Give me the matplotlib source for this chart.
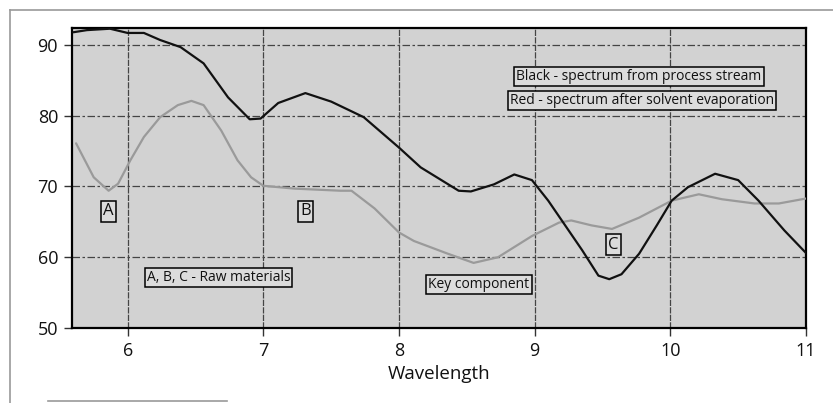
import matplotlib
matplotlib.use("Agg")
import matplotlib.pyplot as plt
from matplotlib.lines import Line2D

plt.rcParams['font.family'] = ['Open Sans', 'DejaVu Sans']

# Black - spectrum from process stream
black_x = [5.6, 5.7, 5.87, 6.0, 6.12, 6.24, 6.39, 6.56, 6.74, 6.9, 6.98, 7.11, 7.31, 7.5,
           7.74, 8.0, 8.16, 8.44, 8.53, 8.7, 8.85, 8.98, 9.1, 9.2, 9.35, 9.47, 9.55, 9.64,
           9.77, 9.9, 10.01, 10.13, 10.33, 10.5, 10.65, 10.84, 11.0]
black_y = [91.8, 92.1, 92.3, 91.7, 91.7, 90.7, 89.7, 87.4, 82.6, 79.5, 79.6, 81.8, 83.2, 82.0,
           79.8, 75.5, 72.7, 69.4, 69.3, 70.3, 71.7, 70.9, 68.0, 65.2, 61.0, 57.4, 56.9, 57.6,
           60.5, 64.5, 68.0, 69.9, 71.8, 70.9, 68.0, 63.8, 60.6]

# Red - spectrum after solvent evaporation
red_x = [5.62, 5.75, 5.86, 5.93, 6.02, 6.12, 6.24, 6.37, 6.47, 6.56, 6.69, 6.81, 6.91, 7.0,
         7.23, 7.57, 7.65, 7.82, 8.0, 8.11, 8.36, 8.55, 8.73, 8.98, 9.18, 9.27, 9.42, 9.57,
         9.77, 10.01, 10.21, 10.38, 10.62, 10.8, 11.0]
red_y = [76.1, 71.3, 69.4, 70.4, 73.7, 77.0, 79.8, 81.5, 82.1, 81.5, 77.9, 73.7, 71.3, 70.1,
         69.7, 69.4, 69.4, 66.9, 63.5, 62.3, 60.5, 59.2, 60.0, 63.0, 64.9, 65.2, 64.5, 64.0,
         65.6, 68.0, 68.9, 68.2, 67.6, 67.6, 68.3]

x_ticks = [6, 7, 8, 9, 10, 11]
y_ticks = [50, 60, 70, 80, 90]

# annotation boxes: (text, x, y)
labels = [
    ("A", 5.86, 66.5),
    ("B", 7.31, 66.5),
    ("C", 9.58, 61.8),
    ("A, B, C - Raw materials", 6.67, 57.1),
    ("Key component", 8.59, 56.2),
    ("Black - spectrum from process stream", 9.77, 85.5),
    ("Red - spectrum after solvent evaporation", 9.79, 82.2),
]

bg = '#d2d2d2'
fig = plt.figure(figsize=(8.33, 4.03), dpi=100)
ax = fig.add_axes([72 / 833, 75 / 403, 734 / 833, 300 / 403])
ax.set_facecolor(bg)

ax.set_xlim(5.59, 11.0)
ax.set_ylim(50, 92.4)
ax.set_xticks(x_ticks)
ax.set_yticks(y_ticks)

# grid
for yv in y_ticks[1:]:
    ax.axhline(yv, color='#444444', lw=0.9, ls=(0, (6, 2, 2, 2)), zorder=1)
for xv in x_ticks[:-1]:
    ax.axvline(xv, color='#444444', lw=0.9, ls=(0, (5, 1)), zorder=1)

ax.plot(red_x, red_y, color='#9a9a9a', lw=1.6, zorder=3, solid_capstyle='round')
ax.plot(black_x, black_y, color='#111111', lw=1.6, zorder=4, solid_capstyle='round')

for txt, tx, ty in labels:
    fs = 12 if len(txt) == 1 else 10
    ax.text(tx, ty, txt, ha='center', va='center', fontsize=fs, color='#111111', zorder=5,
            bbox=dict(boxstyle='square,pad=0.15', facecolor='#dcdcdc', edgecolor='black', lw=1.1))

for side in ['left', 'bottom', 'top', 'right']:
    ax.spines[side].set_color('black')
    ax.spines[side].set_linewidth(1.6)
ax.tick_params(axis='both', direction='out', length=6, width=1, colors='#333333',
               labelsize=13, labelcolor='#111111', pad=4)
ax.set_xlabel("Wavelength", fontsize=13.5, color='#111111', labelpad=4)

# scanned page frame
fig.add_artist(Line2D([10 / 833, 1.0], [1 - 10 / 403, 1 - 10 / 403], color='#9a9a9a', lw=1.2))
fig.add_artist(Line2D([10 / 833, 10 / 833], [0, 1 - 10 / 403], color='#9a9a9a', lw=1.2))
fig.add_artist(Line2D([48 / 833, 227 / 833], [2 / 403, 2 / 403], color='#9a9a9a', lw=1.2))

fig.savefig("out.png", dpi=100)
